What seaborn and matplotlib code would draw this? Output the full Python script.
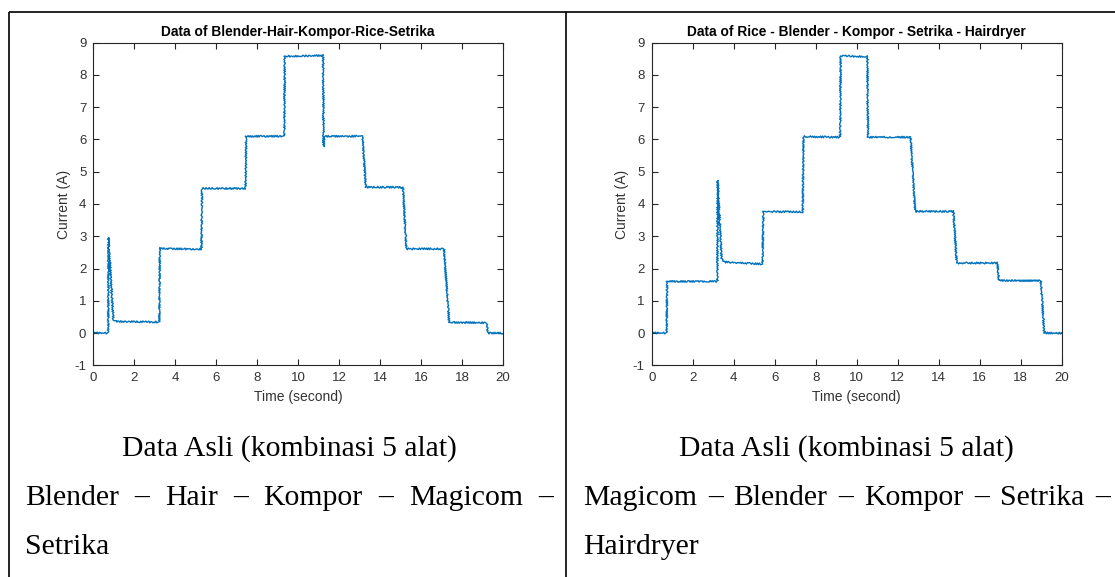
import matplotlib
matplotlib.use("Agg")
import matplotlib.pyplot as plt
from matplotlib.lines import Line2D
import pandas as pd
import seaborn as sns

# ---- measured current traces: breakpoints (time in s, current in A) ----
left_title = "Data of Blender-Hair-Kompor-Rice-Setrika"
left_time = [0.00, 0.73, 0.74, 0.98, 1.10, 3.22, 3.25, 3.30, 5.28, 5.31,
             7.43, 7.46, 9.32, 9.35, 11.22, 11.24, 11.27, 13.14, 13.30, 15.12,
             15.28, 17.12, 17.37, 19.19, 19.27, 20.00]
left_current = [0.00, 0.00, 2.96, 0.40, 0.36, 0.34, 2.65, 2.62, 2.60, 4.48,
                4.48, 6.10, 6.10, 8.58, 8.60, 5.78, 6.10, 6.10, 4.52, 4.52,
                2.61, 2.61, 0.33, 0.32, 0.00, 0.00]

right_title = "Data of Rice - Blender - Kompor - Setrika - Hairdryer"
right_time = [0.00, 0.73, 0.75, 3.20, 3.22, 3.41, 3.55, 5.40, 5.45, 7.37,
              7.40, 9.19, 9.22, 10.52, 10.55, 12.63, 12.85, 14.72, 14.88, 16.86,
              16.94, 18.98, 19.15, 20.00]
right_current = [0.00, 0.00, 1.60, 1.60, 4.73, 2.32, 2.20, 2.14, 3.77, 3.75,
                 6.09, 6.07, 8.59, 8.57, 6.07, 6.07, 3.77, 3.77, 2.17, 2.17,
                 1.63, 1.62, 0.00, 0.00]

x_ticks = list(range(0, 21, 2))
y_ticks = list(range(-1, 10))

caption_head = "Data Asli (kombinasi 5 alat)"
left_caption = ["Blender", "–", "Hair", "–", "Kompor", "–", "Magicom", "–"]
left_caption_tail = "Setrika"
right_caption = ["Magicom", "–", "Blender", "–", "Kompor", "–", "Setrika", "–"]
right_caption_tail = "Hairdryer"

# ---- styling ----
sns.set_style("white")
plt.rcParams["font.family"] = ["Liberation Sans", "DejaVu Sans"]
plt.rcParams["axes.unicode_minus"] = False

W, H = 1115, 577
fig = plt.figure(figsize=(W / 100, H / 100), dpi=100)
fig.patch.set_facecolor("white")

LINE_BLUE = "#0072BD"
AX_COLOR = "#262626"
TXT_COLOR = "#333333"


def px_rect(x0, y_top, x1, y_bot):
    return [x0 / W, 1 - y_bot / H, (x1 - x0) / W, (y_bot - y_top) / H]


def draw_panel(rect, t, cur, title, ylabel_x):
    ax = fig.add_axes(rect)
    df = pd.DataFrame({"Time": t, "Current": cur})
    sns.lineplot(data=df, x="Time", y="Current", ax=ax, estimator=None,
                 sort=False, color=LINE_BLUE, linewidth=1.0)
    line = ax.get_lines()[0]
    # small supply ripple on the trace
    line.set_sketch_params(scale=0.9, length=2.0, randomness=0.6)
    ax.set_xlim(0, 20)
    ax.set_ylim(-1, 9)
    ax.set_xticks(x_ticks)
    ax.set_yticks(y_ticks)
    ax.tick_params(direction="in", length=4, width=0.8, color=AX_COLOR,
                   labelsize=9.5, labelcolor=TXT_COLOR, top=True, right=True,
                   bottom=True, left=True, pad=5)
    for s in ax.spines.values():
        s.set_visible(True)
        s.set_color(AX_COLOR)
        s.set_linewidth(0.8)
    ax.set_xlabel("Time (second)", fontsize=10, color=TXT_COLOR)
    ax.set_ylabel("Current (A)", fontsize=10, color=TXT_COLOR)
    ax.xaxis.set_label_coords(0.5, -0.098)
    ax.xaxis.label.set_va("center")
    ax.yaxis.set_label_coords(ylabel_x, 0.5)
    ax.yaxis.label.set_va("center")
    ax.set_title(title, fontsize=9.9, fontweight="bold", color="black", pad=5)
    ax.grid(False)
    return ax


draw_panel(px_rect(93.3, 42.7, 503.0, 365.3), left_time, left_current, left_title, -0.0715)
draw_panel(px_rect(651.7, 42.7, 1061.7, 365.3), right_time, right_current, right_title, -0.0724)

# ---- table borders ----
border_kw = dict(color="black", linewidth=1.2, solid_capstyle="butt")
fig.add_artist(Line2D([9 / W, 1.0], [1 - 12 / H, 1 - 12 / H], transform=fig.transFigure, **border_kw))
fig.add_artist(Line2D([9 / W, 9 / W], [0, 1 - 12 / H], transform=fig.transFigure, **border_kw))
fig.add_artist(Line2D([566 / W, 566 / W], [0, 1 - 12 / H], transform=fig.transFigure, **border_kw))

# ---- captions ----
serif = dict(family=["Liberation Serif", "DejaVu Serif"], fontsize=21.4, color="black")
renderer = fig.canvas.get_renderer()


def justified_line(tokens, x_left, x_right, baseline):
    texts = [fig.text(0, 1 - baseline / H, tok, ha="left", va="baseline", **serif)
             for tok in tokens]
    widths = [tx.get_window_extent(renderer).width for tx in texts]
    gap = (x_right - x_left - sum(widths)) / (len(tokens) - 1)
    x = x_left
    for tx, w in zip(texts, widths):
        tx.set_x(x / W)
        x += w + gap


fig.text(289 / W, 1 - 456 / H, caption_head, ha="center", va="baseline", **serif)
fig.text(846 / W, 1 - 456 / H, caption_head, ha="center", va="baseline", **serif)
justified_line(left_caption, 25, 553, 505)
justified_line(right_caption, 583, 1110, 505)
fig.text(25 / W, 1 - 554 / H, left_caption_tail, ha="left", va="baseline", **serif)
fig.text(583 / W, 1 - 554 / H, right_caption_tail, ha="left", va="baseline", **serif)

fig.savefig("out.png", dpi=100, facecolor="white")
